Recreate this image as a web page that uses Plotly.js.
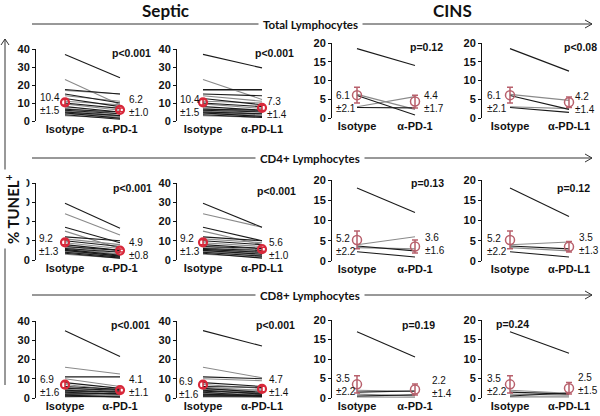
<!DOCTYPE html>
<html><head><meta charset="utf-8">
<script src="https://cdn.plot.ly/plotly-3.0.1.min.js"></script>
<style>html,body{margin:0;padding:0;background:#fff}#chart{width:600px;height:416px}</style>
</head><body><div id="chart"></div>
<script>
// ---------- DATA ----------
const groupTitles = ["Septic", "CINS"];
const rowTitles = ["Total Lymphocytes", "CD4+ Lymphocytes", "CD8+ Lymphocytes"];
const catsPD1 = ["Isotype", "α-PD-1"];
const catsPDL1 = ["Isotype", "α-PD-L1"];
const septicTicks = [0, 10, 20, 30, 40];
const cinsTicks = [0, 5, 10, 15, 20];

// individual subjects, Septic
const septicTotalIso  = [37, 23, 17.5, 17, 15, 14, 12.5, 11, 10, 9.5, 8, 7, 6.5, 6, 6, 5.5, 5, 5, 4.5, 4, 3.5, 3];
const septicTotalPD1  = [24, 9, 15, 15, 10, 11, 8, 9, 7, 6, 5, 4, 5, 3, 4, 2.5, 3, 2, 1.5, 2, 1, 1.5];
const septicTotalPDL1 = [29.5, 12, 17.5, 17, 14, 11, 9, 10, 8, 7, 6, 5, 6, 4, 5, 3.5, 4, 3, 2.5, 3, 2, 2];
const septicCD4Iso    = [29.5, 24, 17, 15, 12, 11, 10, 9, 8, 7, 7, 6.5, 6, 6, 5.5, 5, 5, 4.5, 4, 4, 3.5, 3];
const septicCD4PD1    = [16.5, 13, 9, 6, 10, 8, 7, 6, 5, 4, 5, 3, 4, 3, 2.5, 3, 2, 2, 1.5, 2, 1, 1];
const septicCD4PDL1   = [17, 17, 10, 8, 10, 9, 8, 7, 6, 5, 6, 4, 5, 3.5, 4, 3, 3, 2.5, 2, 2, 1, 1.5];
const septicCD8Iso    = [35, 16, 11, 10, 8, 7, 6, 5.5, 5, 4.5, 4, 4, 3.5, 3, 3, 2.5, 2, 2, 1.5, 1, 1, 0.5];
const septicCD8PD1    = [21.5, 12.5, 11, 6, 5, 4, 4.5, 3, 4, 2.5, 3, 2, 3.5, 1.5, 2, 1, 2.5, 1, 0.5, 1.5, 0.5, 1];
const septicCD8PDL1   = [27, 10.5, 10, 9, 6, 5, 5.5, 4, 3, 4, 2, 3, 2.5, 1.5, 1, 2, 1, 0.5, 1.5, 0.5, 1, 0.5];
// individual subjects, CINS
const cinsTotalIso  = [18.5, 6.3, 6, 3, 2.8];
const cinsTotalPD1  = [14, 2.3, 0.8, 5.7, 2.7];
const cinsTotalPDL1 = [12.5, 4.7, 2.3, 2.5, 1.5];
const cinsCD4Iso    = [18, 4, 3.7, 3.3, 2.3];
const cinsCD4PD1    = [12, 6, 2.5, 3, 1];
const cinsCD4PDL1   = [11, 4.7, 3, 2.5, 1];
const cinsCD8Iso    = [17, 2, 1.5, 1, 0.5, 0.3];
const cinsCD8PD1    = [10.5, 1.7, 1.8, 0.5, 0.8, 0.2];
const cinsCD8PDL1   = [11.5, 1.2, 1, 0.7, 1.3, 0.3];

// means and SEM per row (Total, CD4, CD8)
const septicIsoMean  = [10.4, 9.2, 6.9];  const septicIsoSem  = [1.5, 1.3, 1.6];
const septicPD1Mean  = [6.2, 4.9, 4.1];   const septicPD1Sem  = [1.0, 0.8, 1.1];
const septicPDL1Mean = [7.3, 5.6, 4.7];   const septicPDL1Sem = [1.4, 1.0, 1.4];
const cinsIsoMean    = [6.1, 5.2, 3.5];   const cinsIsoSem    = [2.1, 2.2, 2.2];
const cinsPD1Mean    = [4.4, 3.6, 2.2];   const cinsPD1Sem    = [1.7, 1.6, 1.4];
const cinsPDL1Mean   = [4.2, 3.5, 2.5];   const cinsPDL1Sem   = [1.4, 1.3, 1.5];

const pValues = [
  ["p<0.001", "p<0.001", "p=0.12", "p<0.08"],
  ["p<0.001", "p<0.001", "p=0.13", "p=0.12"],
  ["p<0.001", "p<0.001", "p=0.19", "p=0.24"]
];

// ---------- LAYOUT GEOMETRY (pixels) ----------
const W = 600, H = 416;
const px = p => p / W, py = p => 1 - p / H;
const colGeom = [{a:36,c0:65,c1:120},{a:177,c0:203,c1:262},{a:332,c0:357,c1:415},{a:482,c0:510,c1:569}];
const septicRowGeom = [{top:49,bot:121},{top:183,bot:260},{top:321,bot:398}];
const cinsRowGeom = [{top:43,bot:118},{top:180,bot:261},{top:320,bot:398}];
// mean label geometry: [leftX, leftYcenter, rightX, rightYcenter]
const labelGeom = [
  [[39,104,128,106],[179,106,266,108],[335,102,423,102],[486,102,574,103]],
  [[38,245,128,249],[179,245,268,249],[335,245,424,244],[486,245,578,244]],
  [[39,386,128,386],[178,388,268,386],[335,385,431,387],[486,385,577,384]]
];
const pGeom = [
  [[131,53],[274,53],[426,47],[580,47]],
  [[132,188],[276,191],[427,183],[573,188]],
  [[130,325],[275,325],[418,325],[512,324]]
];
const headerY = [24, 158, 295];

const FONT = "Liberation Sans, Arial, sans-serif";
const HFONT = "Lato, Open Sans, sans-serif";

const panels = [];
const septicIso = [septicTotalIso, septicCD4Iso, septicCD8Iso];
const septicPD1 = [septicTotalPD1, septicCD4PD1, septicCD8PD1];
const septicPDL1 = [septicTotalPDL1, septicCD4PDL1, septicCD8PDL1];
const cinsIso = [cinsTotalIso, cinsCD4Iso, cinsCD8Iso];
const cinsPD1 = [cinsTotalPD1, cinsCD4PD1, cinsCD8PD1];
const cinsPDL1 = [cinsTotalPDL1, cinsCD4PDL1, cinsCD8PDL1];
for (let r = 0; r < 3; r++) {
  panels.push({r, c:0, septic:true, cats:catsPD1, iso:septicIso[r], trt:septicPD1[r], mI:septicIsoMean[r], sI:septicIsoSem[r], mT:septicPD1Mean[r], sT:septicPD1Sem[r]});
  panels.push({r, c:1, septic:true, cats:catsPDL1, iso:septicIso[r], trt:septicPDL1[r], mI:septicIsoMean[r], sI:septicIsoSem[r], mT:septicPDL1Mean[r], sT:septicPDL1Sem[r]});
  panels.push({r, c:2, septic:false, cats:catsPD1, iso:cinsIso[r], trt:cinsPD1[r], mI:cinsIsoMean[r], sI:cinsIsoSem[r], mT:cinsPD1Mean[r], sT:cinsPD1Sem[r]});
  panels.push({r, c:3, septic:false, cats:catsPDL1, iso:cinsIso[r], trt:cinsPDL1[r], mI:cinsIsoMean[r], sI:cinsIsoSem[r], mT:cinsPDL1Mean[r], sT:cinsPDL1Sem[r]});
}

const traces = [];
const layout = {
  width: W, height: H, margin: {l:0, r:0, t:0, b:0},
  paper_bgcolor: "#fff", plot_bgcolor: "rgba(0,0,0,0)",
  showlegend: false, annotations: [], shapes: []
};

panels.forEach((p, i) => {
  const n = i + 1;
  const xa = n === 1 ? "xaxis" : "xaxis" + n;
  const ya = n === 1 ? "yaxis" : "yaxis" + n;
  const xr = n === 1 ? "x" : "x" + n;
  const yr = n === 1 ? "y" : "y" + n;
  const g = colGeom[p.c];
  const rg = p.septic ? septicRowGeom[p.r] : cinsRowGeom[p.r];
  const u = g.c1 - g.c0;
  const right = g.c1 + 26;
  layout[xa] = {
    domain: [px(g.a), px(right)], range: [-(g.c0 - g.a) / u, (right - g.c0) / u],
    anchor: yr, showline: false, showgrid: false, zeroline: false,
    tickvals: [0, 1], ticktext: p.cats, ticks: "",
    tickfont: {family: FONT, size: 11, color: "#111", weight: 600}, fixedrange: true
  };
  const ticks = p.septic ? septicTicks : cinsTicks;
  layout[ya] = {
    domain: [py(rg.bot), py(rg.top)], range: [0, ticks[ticks.length - 1]],
    anchor: xr, showline: true, linecolor: "#111", linewidth: 1,
    showgrid: false, zeroline: false, ticks: "outside", ticklen: 3, tickwidth: 1, tickcolor: "#111",
    tickvals: ticks, tickfont: {family: FONT, size: 11, color: "#111", weight: "bold"}, fixedrange: true
  };
  // subject lines
  const dark = {x: [], y: []}, light = {x: [], y: []};
  p.iso.forEach((v, k) => {
    const tgt = (k % 2 === 0) ? dark : light;
    tgt.x.push(0, 1, null); tgt.y.push(v, p.trt[k], null);
  });
  traces.push({type: "scatter", mode: "lines", x: light.x, y: light.y, xaxis: xr, yaxis: yr,
    line: {color: "#8a8a8a", width: 1.1}, hoverinfo: "skip"});
  traces.push({type: "scatter", mode: "lines", x: dark.x, y: dark.y, xaxis: xr, yaxis: yr,
    line: {color: "#1a1a1a", width: 1.1}, hoverinfo: "skip"});
  // means
  const mc = p.septic ? "#d8283a" : "#b8606c";
  traces.push({type: "scatter", mode: "markers", x: [0, 1], y: [p.mI, p.mT], xaxis: xr, yaxis: yr,
    marker: {symbol: "circle-open", size: p.septic ? 8 : 9, color: mc, line: {width: p.septic ? 2.2 : 1.5, color: mc}},
    error_y: {type: "data", array: [p.sI, p.sT], visible: true, color: mc, thickness: 1.5, width: 3},
    cliponaxis: false, hoverinfo: "skip"});
  // mean labels (value over ±SEM)
  const lg = labelGeom[p.r][p.c];
  const lab = (x, y, m, s) => layout.annotations.push({xref: "paper", yref: "paper", x: px(x), y: py(y),
    xanchor: "left", yanchor: "middle", align: "left", text: m.toFixed(1) + "<br>±" + s.toFixed(1),
    showarrow: false, borderpad: 0, font: {family: FONT, size: 10, color: "#111"}});
  lab(lg[0], lg[1], p.mI, p.sI);
  lab(lg[2], lg[3], p.mT, p.sT);
  // p-value
  const pg = pGeom[p.r][p.c];
  layout.annotations.push({xref: "paper", yref: "paper", x: px(pg[0]), y: py(pg[1]),
    xanchor: "center", yanchor: "middle", text: pValues[p.r][p.c], showarrow: false,
    font: {family: FONT, size: 10.5, color: "#111", weight: "bold"}});
});

// group titles
layout.annotations.push({xref: "paper", yref: "paper", x: px(165), y: py(10), text: groupTitles[0], showarrow: false,
  xanchor: "center", yanchor: "middle", font: {family: HFONT, size: 17, color: "#111", weight: "bold"}});
layout.annotations.push({xref: "paper", yref: "paper", x: px(452), y: py(10), text: groupTitles[1], showarrow: false,
  xanchor: "center", yanchor: "middle", font: {family: HFONT, size: 17, color: "#111", weight: "bold"}});

// row header lines with arrows
headerY.forEach((y, r) => {
  layout.shapes.push({type: "line", xref: "paper", yref: "paper", x0: px(32), x1: px(592), y0: py(y), y1: py(y),
    line: {color: "#333", width: 1}});
  layout.shapes.push({type: "path", xref: "paper", yref: "paper",
    path: `M ${px(585)} ${py(y - 4)} L ${px(592)} ${py(y)} L ${px(585)} ${py(y + 4)}`,
    line: {color: "#333", width: 1}});
  layout.annotations.push({xref: "paper", yref: "paper", x: px(310), y: py(y), text: rowTitles[r], showarrow: false,
    xanchor: "center", yanchor: "middle", bgcolor: "#fff", borderpad: 4,
    font: {family: HFONT, size: 11.5, color: "#111", weight: "bold"}});
});

// vertical y arrow and title
layout.shapes.push({type: "line", xref: "paper", yref: "paper", x0: px(5), x1: px(5), y0: py(385), y1: py(39),
  line: {color: "#333", width: 1}});
layout.shapes.push({type: "path", xref: "paper", yref: "paper",
  path: `M ${px(1)} ${py(45)} L ${px(5)} ${py(39)} L ${px(9)} ${py(45)}`, line: {color: "#333", width: 1}});
layout.annotations.push({xref: "paper", yref: "paper", x: px(12), y: py(209), text: "% TUNEL<sup>+</sup>",
  textangle: -90, showarrow: false, xanchor: "center", yanchor: "middle", bgcolor: "#fff", borderpad: 4,
  font: {family: HFONT, size: 15, color: "#111", weight: "bold"}});

Plotly.newPlot("chart", traces, layout, {staticPlot: true, displayModeBar: false});
</script>
</body></html>
